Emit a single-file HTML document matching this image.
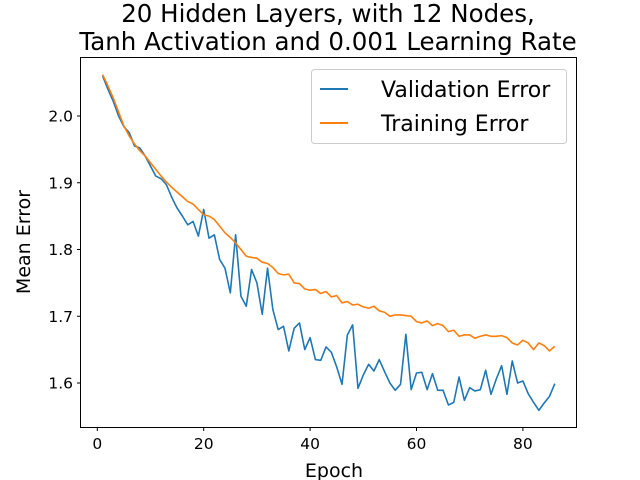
<!DOCTYPE html>
<html><head><meta charset="utf-8"><style>body{margin:0;background:#fff}svg{display:block;font-family:"DejaVu Sans","Liberation Sans",sans-serif}</style></head>
<body>
<svg id="c" width="640" height="480">
<text x="328" y="22" text-anchor="middle" font-size="24.5">20 Hidden Layers, with 12 Nodes,</text>
<text x="328" y="50" text-anchor="middle" font-size="24.5">Tanh Activation and 0.001 Learning Rate</text>
<g id="plot"></g>
<rect x="80.5" y="57.5" width="496" height="370" fill="none" stroke="#000" stroke-width="1"/>
<text x="334" y="477" text-anchor="middle" font-size="19">Epoch</text>
<text transform="translate(30,242) rotate(-90)" text-anchor="middle" font-size="19">Mean Error</text>
<g>
<rect x="311.5" y="69.5" width="255" height="74" rx="3" fill="#fff" fill-opacity="0.8" stroke="#ccc"/>
<line x1="320" y1="89" x2="348" y2="89" stroke="#1f77b4" stroke-width="2"/>
<text x="381" y="97" font-size="22">Validation Error</text>
<line x1="320" y1="123" x2="348" y2="123" stroke="#ff7f0e" stroke-width="2"/>
<text x="381" y="131" font-size="22">Training Error</text>
</g>
</svg>
<script>
const training=[2.062,2.045,2.027,2.006,1.985,1.970,1.958,1.948,1.940,1.930,1.920,1.910,1.901,1.893,1.886,1.879,1.872,1.868,1.860,1.852,1.850,1.845,1.835,1.825,1.818,1.810,1.800,1.790,1.788,1.787,1.781,1.779,1.773,1.764,1.762,1.763,1.750,1.749,1.741,1.739,1.740,1.734,1.737,1.729,1.731,1.720,1.722,1.717,1.718,1.714,1.712,1.715,1.708,1.706,1.700,1.702,1.702,1.701,1.700,1.692,1.690,1.693,1.686,1.689,1.686,1.677,1.679,1.670,1.672,1.672,1.667,1.670,1.672,1.670,1.670,1.671,1.668,1.660,1.657,1.664,1.660,1.650,1.660,1.656,1.648,1.655];
const validation=[2.060,2.040,2.022,2.000,1.984,1.975,1.955,1.952,1.940,1.925,1.910,1.906,1.897,1.878,1.862,1.850,1.837,1.842,1.820,1.860,1.817,1.822,1.785,1.772,1.735,1.822,1.730,1.715,1.770,1.750,1.703,1.772,1.710,1.680,1.685,1.648,1.682,1.690,1.650,1.668,1.635,1.634,1.654,1.646,1.624,1.598,1.672,1.687,1.592,1.612,1.628,1.618,1.635,1.617,1.600,1.589,1.598,1.673,1.590,1.615,1.616,1.590,1.614,1.589,1.589,1.567,1.571,1.609,1.574,1.593,1.588,1.590,1.619,1.583,1.606,1.626,1.583,1.633,1.600,1.603,1.584,1.571,1.559,1.570,1.580,1.599];
const xTicks=[0,20,40,60,80];
const yTicks=[1.6,1.7,1.8,1.9,2.0];
const NS='http://www.w3.org/2000/svg';
function xs(v){return 97.3+v*5.32;}
function ys(v){return 116+(2.0-v)*667.5;}
const g=document.getElementById('plot');
function mk(t,a){const e=document.createElementNS(NS,t);for(const k in a)e.setAttribute(k,a[k]);g.appendChild(e);return e;}
xTicks.forEach(t=>{
 const l=mk('line',{x1:xs(t),x2:xs(t),y1:427.5,y2:431,stroke:'#000'});
 
 
 const tx=mk('text',{x:xs(t),y:449,'text-anchor':'middle','font-size':'15.5'});
 tx.textContent=t;
 
 
});
yTicks.forEach(t=>{
 const l=mk('line',{x1:77,x2:80.5,y1:ys(t),y2:ys(t),stroke:'#000'});
 
 
 const tx=mk('text',{x:73,y:ys(t)+5.5,'text-anchor':'end','font-size':'15.5'});
 tx.textContent=t.toFixed(1);
 
 
});
function line(d,c,n){
 const p=mk('polyline',{points:d.map((v,i)=>xs(i+1)+','+ys(v)).join(' '),fill:'none',stroke:c,'stroke-width':1.6,'stroke-linejoin':'round'});
 
 
}
line(validation,'#1f77b4','validation-error-line');
line(training,'#ff7f0e','training-error-line');
</script>
</body></html>
